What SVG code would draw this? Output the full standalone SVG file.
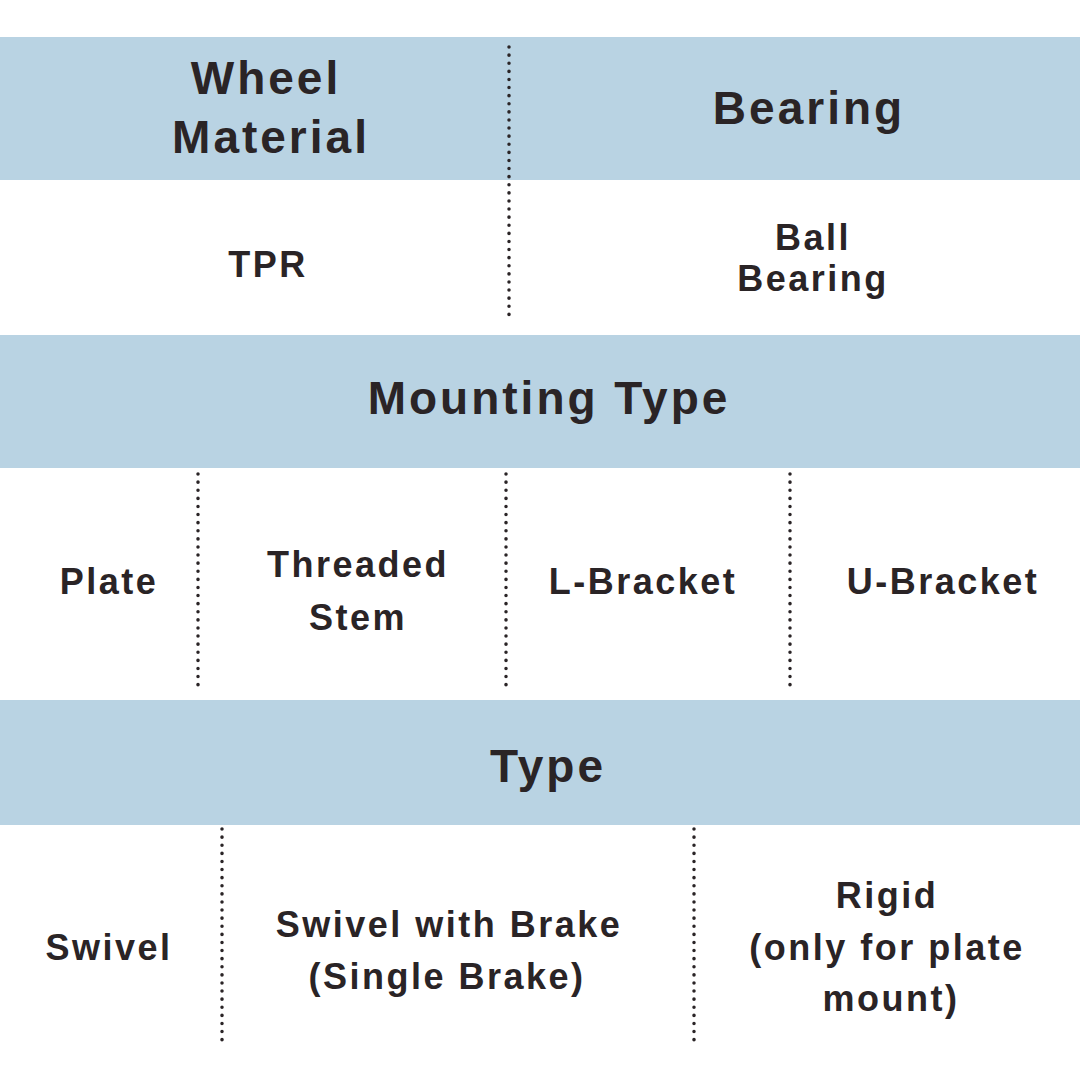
<svg xmlns="http://www.w3.org/2000/svg" width="1080" height="1080" viewBox="0 0 1080 1080">
<style>
.band{fill:#b9d3e3}
.h{font-family:"Liberation Sans",Arial,sans-serif;font-weight:bold;font-size:46px;letter-spacing:3px;fill:#2a2426;text-anchor:middle}
.c{font-family:"Liberation Sans",Arial,sans-serif;font-weight:bold;font-size:36px;letter-spacing:2.5px;fill:#2a2426;text-anchor:middle}
.d{stroke:#2a2426;stroke-width:3.5;stroke-dasharray:0.1 8;stroke-linecap:round;fill:none}
</style>
<rect width="1080" height="1080" fill="#fff"/>
<g id="bands">
<rect class="band" x="0" y="37" width="1080" height="143"/>
<rect class="band" x="0" y="335" width="1080" height="133"/>
<rect class="band" x="0" y="700" width="1080" height="125"/>
</g>
<g id="dividers">
<line class="d" x1="509" y1="47" x2="509" y2="320"/>
<line class="d" x1="198" y1="474" x2="198" y2="685"/>
<line class="d" x1="506" y1="474" x2="506" y2="685"/>
<line class="d" x1="790" y1="474" x2="790" y2="685"/>
<line class="d" x1="222" y1="829" x2="222" y2="1040"/>
<line class="d" x1="694" y1="829" x2="694" y2="1040"/>
</g>
<g id="header1">
<text class="h" x="266" y="94">Wheel</text>
<text class="h" x="271" y="153">Material</text>
<text class="h" x="809" y="124">Bearing</text>
</g>
<g id="row1">
<text class="c" x="268" y="277">TPR</text>
<text class="c" x="813" y="250">Ball</text>
<text class="c" x="813" y="291">Bearing</text>
</g>
<g id="header2"><text class="h" x="549" y="414">Mounting Type</text></g>
<g id="row2">
<text class="c" x="109" y="594">Plate</text>
<text class="c" x="358" y="577">Threaded</text>
<text class="c" x="358" y="630">Stem</text>
<text class="c" x="643" y="594">L-Bracket</text>
<text class="c" x="943" y="594">U-Bracket</text>
</g>
<g id="header3"><text class="h" x="548" y="782">Type</text></g>
<g id="row3">
<text class="c" x="109" y="960">Swivel</text>
<text class="c" x="449" y="937">Swivel with Brake</text>
<text class="c" x="447" y="989">(Single Brake)</text>
<text class="c" x="887" y="908">Rigid</text>
<text class="c" x="887" y="960">(only for plate</text>
<text class="c" x="891" y="1011">mount)</text>
</g>
</svg>
